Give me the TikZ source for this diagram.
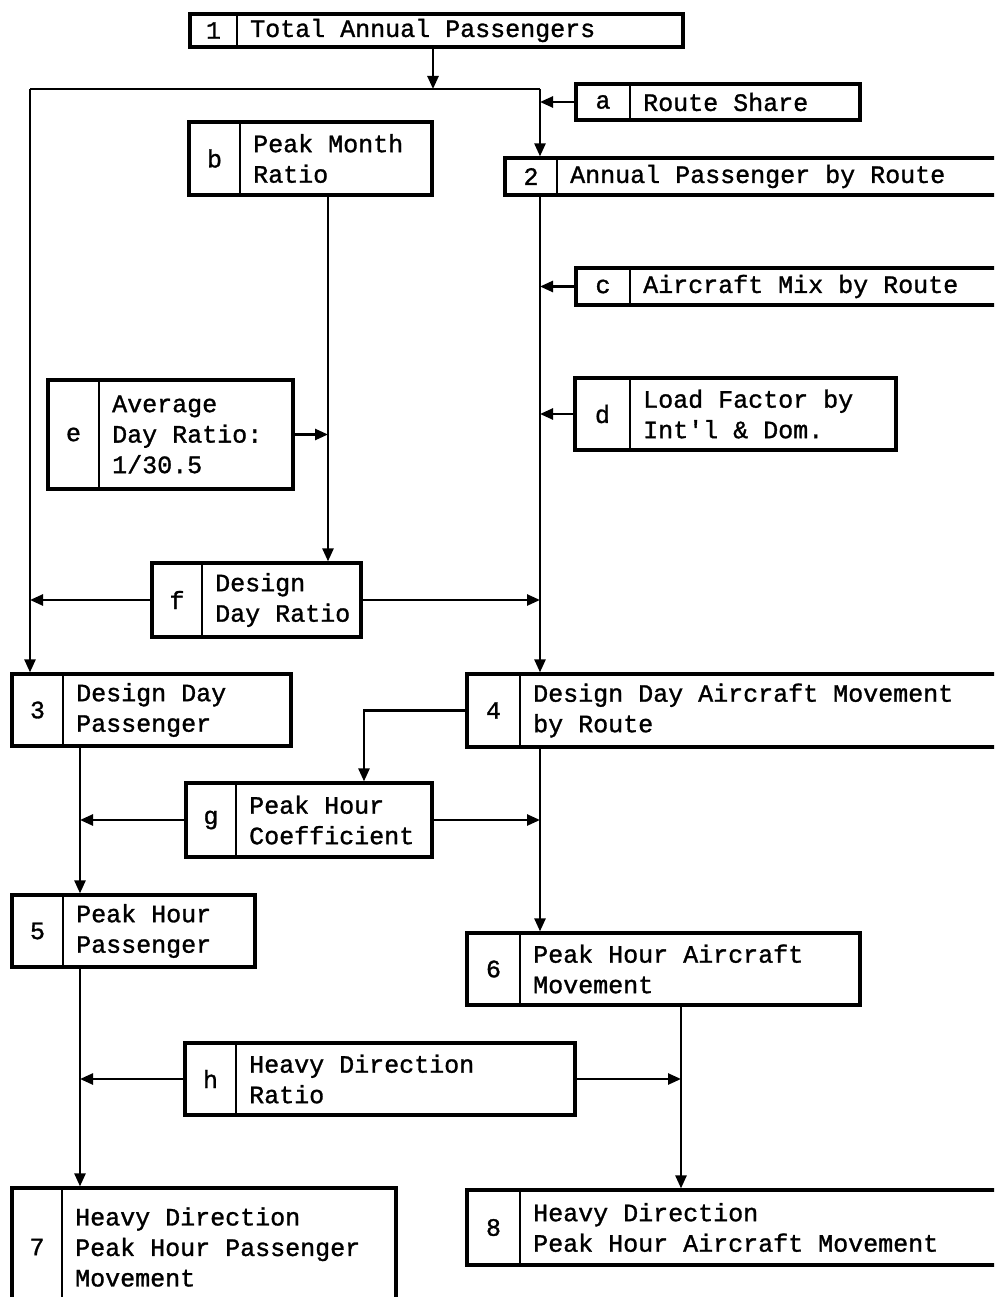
\documentclass[tikz,border=0pt]{standalone}
\usepackage{fontspec}
\newfontfamily\tw[BoldFont=Liberation Mono, BoldFeatures={FakeBold=1.2}]{Liberation Mono}
\usetikzlibrary{arrows.meta,fit}
\tikzset{
  boxst/.style={draw, line width=3.2pt, inner sep=0pt, rectangle},
  boxline/.style={line width=2.2pt},
  numst/.style={inner sep=0pt, font=\tw\bfseries\fontsize{25}{30.5}\selectfont},
  txtst/.style={inner sep=0pt, anchor=west, align=left, font=\tw\bfseries\fontsize{25}{30.5}\selectfont},
  arr/.style={line width=2.5pt, -{Triangle[length=13pt,width=11pt]}},
  conn/.style={line width=2.5pt}
}
\newcommand\flowbox[8]{%
  \coordinate (#1-a) at (#2,#3);
  \coordinate (#1-b) at (#4,#5);
  \node[boxst, fit=(#1-a)(#1-b)] (#1) {};
  \draw[boxline] (#6,#3) -- (#6,#5);
  \node[numst] (#1-num) at ({(#2+#6)/2},{(#3+#5)/2}) {#7};
  \node[txtst] (#1-txt) at ({#6+13},{(#3+#5)/2}) {#8};
}
\begin{document}
\begin{tikzpicture}[x=1pt,y=-1pt]
\fill[white] (0,0) rectangle (994,1297);
\clip (0,0) rectangle (994,1297);
% boxes
\flowbox{n1}{190}{14}{683}{47}{237}{1}{Total Annual Passengers}
\flowbox{na}{576}{84}{860}{120}{630}{a}{Route Share}
\flowbox{n2}{505}{158}{1005}{195}{557}{2}{Annual Passenger by Route}
\flowbox{nb}{189}{122}{432}{195}{240}{b}{Peak Month\\Ratio}
\flowbox{nc}{576}{268}{1005}{305}{630}{c}{Aircraft Mix by Route}
\flowbox{nd}{575}{378}{896}{450}{630}{d}{Load Factor by\\Int'l \& Dom.}
\flowbox{ne}{48}{380}{293}{489}{99}{e}{Average\\Day Ratio:\\1/30.5}
\flowbox{nf}{152}{563}{361}{637}{202}{f}{Design\\Day Ratio}
\flowbox{n3}{12}{674}{291}{746}{63}{3}{Design Day\\Passenger}
\flowbox{n4}{467}{674}{1005}{747}{520}{4}{Design Day Aircraft Movement\\by Route}
\flowbox{ng}{186}{783}{432}{857}{236}{g}{Peak Hour\\Coefficient}
\flowbox{n5}{12}{895}{255}{967}{63}{5}{Peak Hour\\Passenger}
\flowbox{n6}{467}{933}{860}{1005}{520}{6}{Peak Hour Aircraft\\Movement}
\flowbox{nh}{185}{1043}{575}{1115}{236}{h}{Heavy Direction\\Ratio}
\flowbox{n7}{12}{1188}{396}{1306}{62}{7}{Heavy Direction\\Peak Hour Passenger\\Movement}
\flowbox{n8}{467}{1190}{1005}{1265}{520}{8}{Heavy Direction\\Peak Hour Aircraft Movement}
% junction coordinates
\coordinate (jt) at (433,89);
\coordinate (tl) at (30,89);
\coordinate (tr) at (540,89);
\coordinate (bx) at (328,195);
\coordinate (rx) at (540,195);
\coordinate (gx) at (364,710);
\coordinate (lx) at (80,746);
\coordinate (sx) at (681,1005);
% connectors
\draw[arr] (jt |- n1.south) -- (jt);
\draw[conn] (tl) -- (tr);
\draw[arr] (tl) -- (tl |- n3.north);
\draw[arr] (tr) -- (tr |- n2.north);
\draw[arr] (na.west) -- (na.west -| tr);
\draw[arr] (bx |- nb.south) -- (bx |- nf.north);
\draw[arr] (ne.east) -- (ne.east -| bx);
\draw[arr] (nf.west) -- (nf.west -| tl);
\draw[arr] (nf.east) -- (nf.east -| rx);
\draw[arr] (rx |- n2.south) -- (rx |- n4.north);
\draw[arr] (nc.west) -- (nc.west -| rx);
\draw[arr] (nd.west) -- (nd.west -| rx);
\draw[arr] (n4.west) -| (gx |- ng.north);
\draw[arr] (lx |- n3.south) -- (lx |- n5.north);
\draw[arr] (ng.west) -- (ng.west -| lx);
\draw[arr] (ng.east) -- (ng.east -| rx);
\draw[arr] (rx |- n4.south) -- (rx |- n6.north);
\draw[arr] (lx |- n5.south) -- (lx |- n7.north);
\draw[arr] (sx |- n6.south) -- (sx |- n8.north);
\draw[arr] (nh.west) -- (nh.west -| lx);
\draw[arr] (nh.east) -- (nh.east -| sx);
\end{tikzpicture}
\end{document}
